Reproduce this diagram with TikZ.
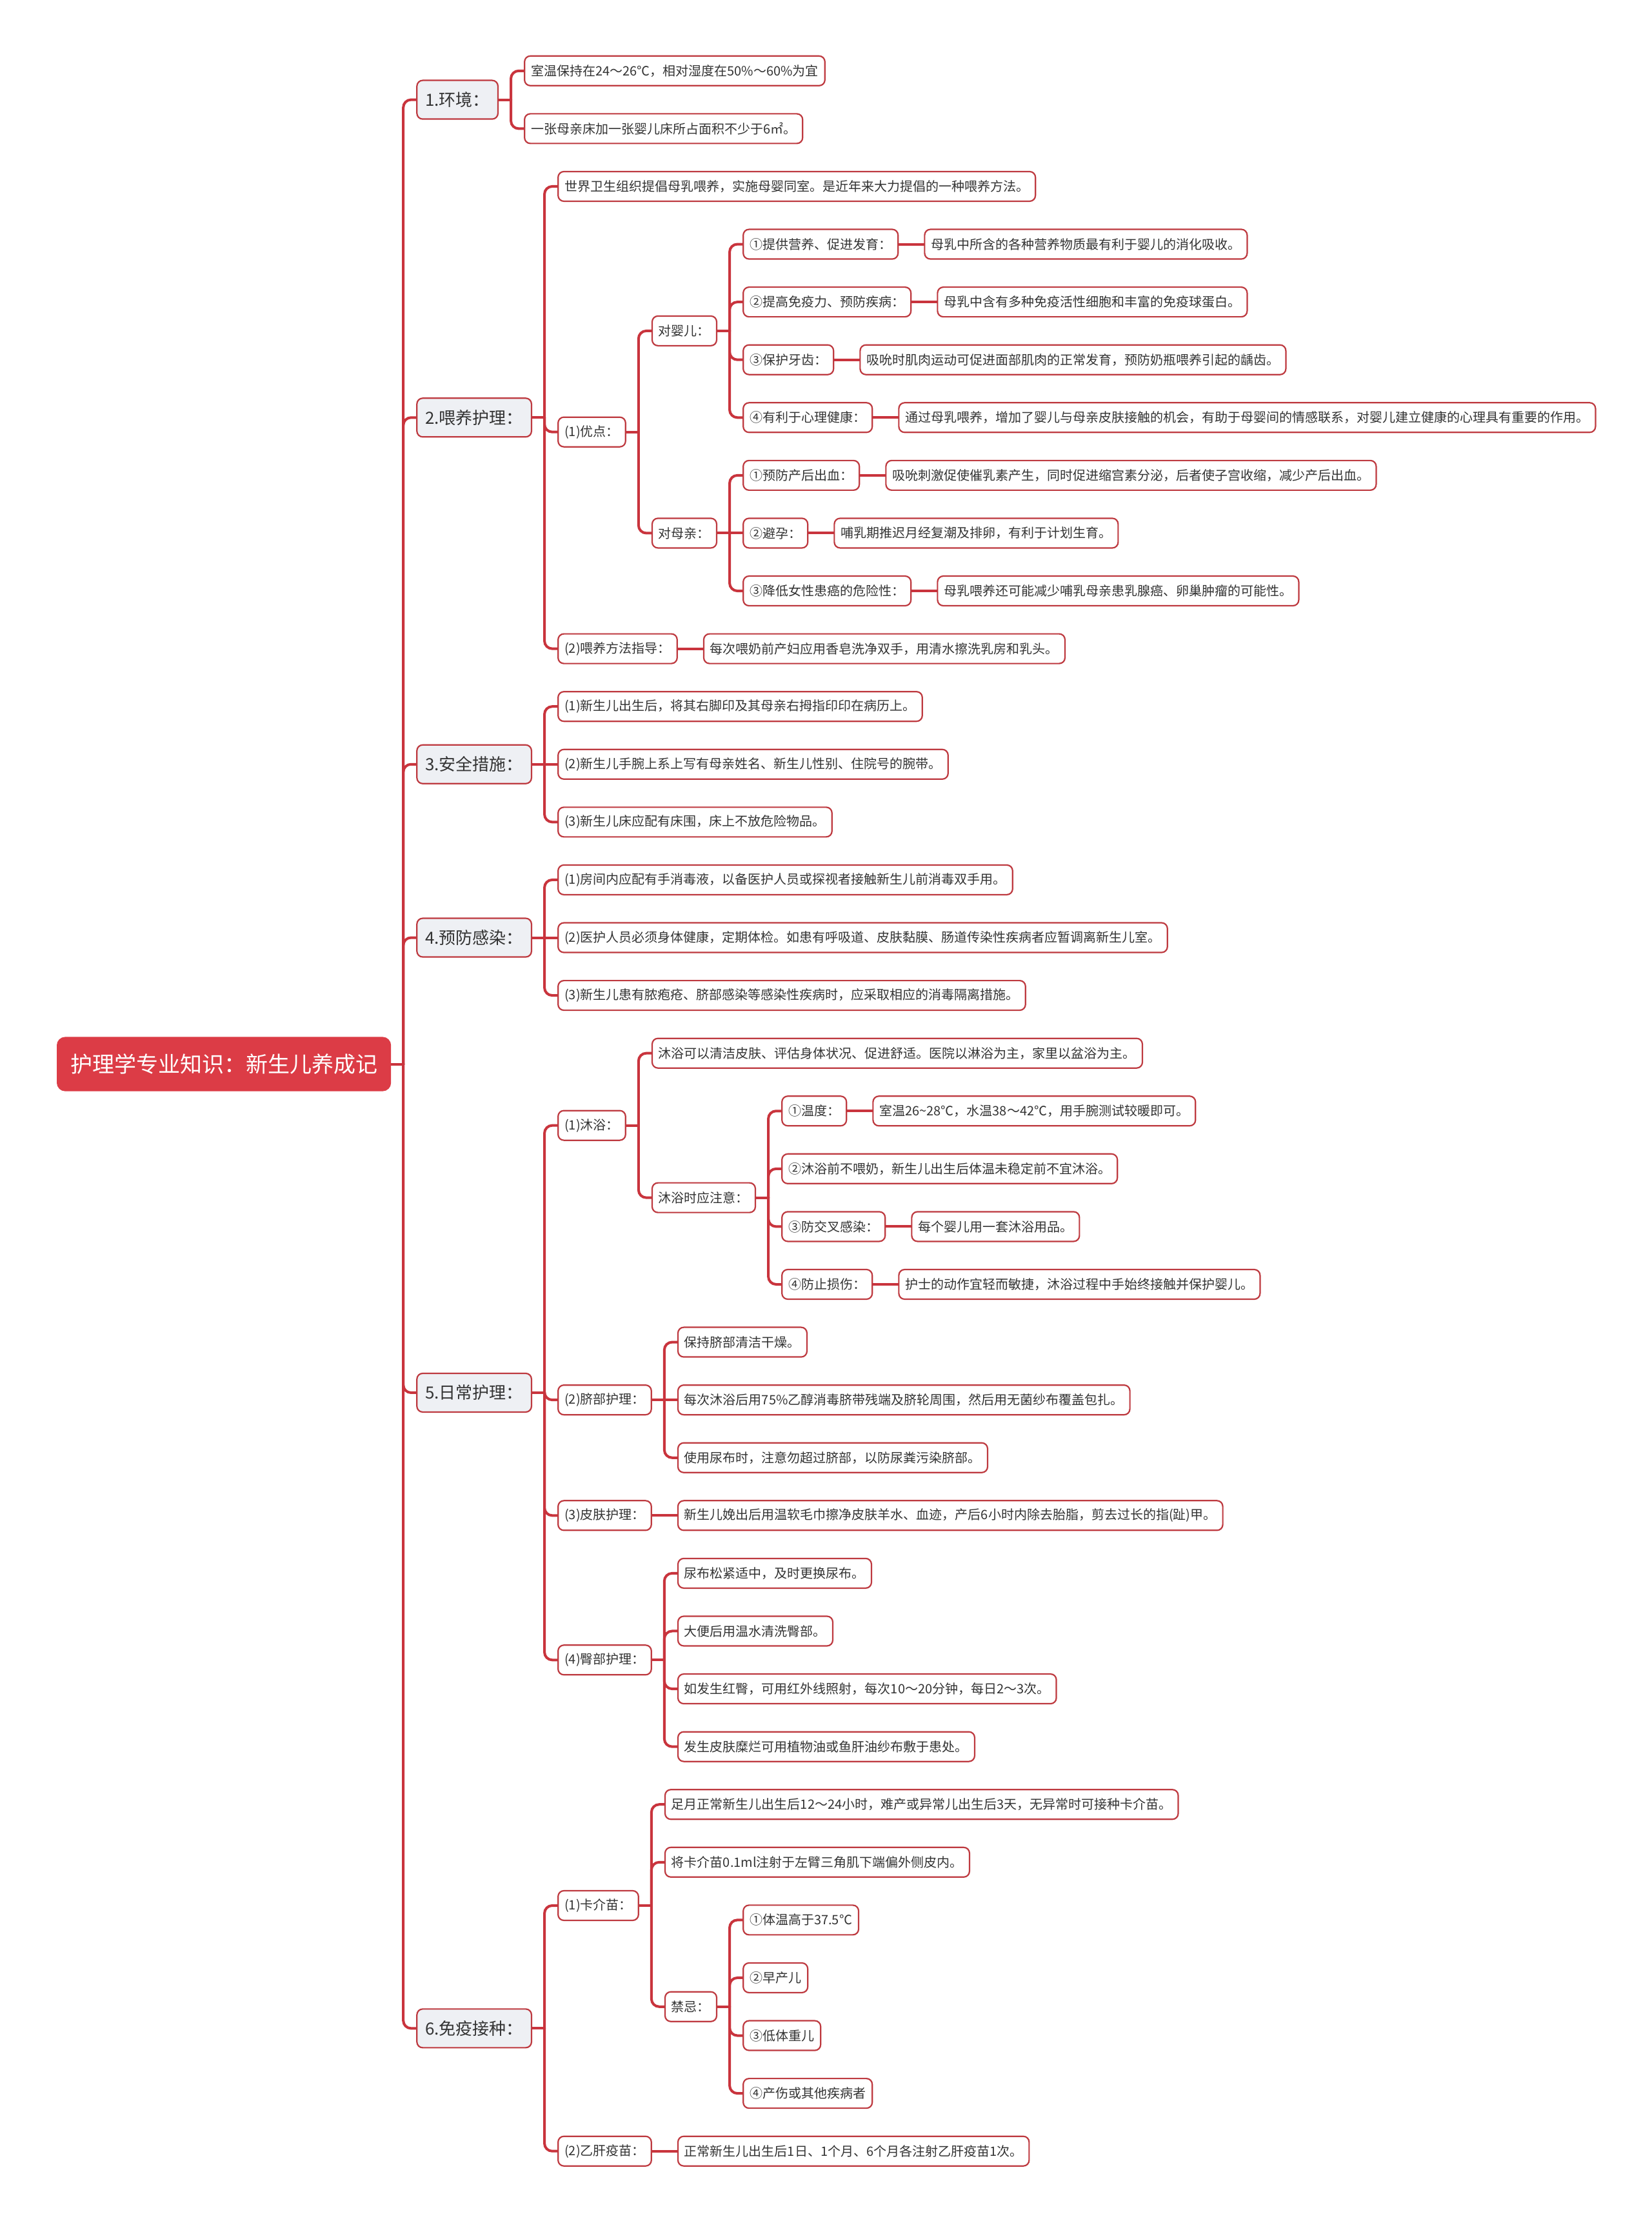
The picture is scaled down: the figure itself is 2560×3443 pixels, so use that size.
\documentclass[tikz,border=0pt]{standalone}
\usepackage{fontspec}
\setmainfont{Noto Sans CJK SC}
\usetikzlibrary{backgrounds}
\definecolor{lineRed}{HTML}{C9343D}
\definecolor{boxRed}{HTML}{BE3A40}
\definecolor{rootRed}{HTML}{DC3C46}
\definecolor{lvGray}{HTML}{EEF0F4}
\definecolor{txtGray}{HTML}{333333}
\tikzset{
  basebox/.style={rounded corners=9pt, draw=boxRed, line width=2.2pt, text=txtGray, inner ysep=0pt, anchor=west},
  rootbox/.style={basebox, fill=rootRed, draw=rootRed, text=white, font=\fontsize{34}{40}\selectfont, minimum height=82pt, inner xsep=20pt, rounded corners=12pt},
  topicbox/.style={basebox, fill=lvGray, font=\fontsize{26}{30}\selectfont, minimum height=60pt, inner xsep=13pt},
  leafbox/.style={basebox, fill=white, font=\fontsize{20}{24}\selectfont, minimum height=46pt, inner xsep=10pt},
  conn/.style={draw=lineRed, line width=4pt, line cap=round, rounded corners=12pt},
}
% child on another row: stub + rounded elbow
\newcommand\mmnode[5]{%
  \pgfmathsetmacro\mmy{109.8+89.58*(#4)}%
  \coordinate (mmrow) at (0,\mmy);%
  \coordinate (mmx) at ([xshift=39pt]#3.east);%
  \node[#1] (#2) at (mmx |- mmrow) {#5};%
  \begin{scope}[on background layer]
    \draw[conn] (#3.east) -- ([xshift=19pt]#3.east);
    \draw[conn] ([xshift=19pt]#3.east) |- (#2.west);
  \end{scope}%
}
% child on the parent's own row: straight line
\newcommand\mmnodeS[5]{%
  \pgfmathsetmacro\mmy{109.8+89.58*(#4)}%
  \coordinate (mmrow) at (0,\mmy);%
  \coordinate (mmx) at ([xshift=39pt]#3.east);%
  \node[#1] (#2) at (mmx |- mmrow) {#5};%
  \begin{scope}[on background layer]
    \draw[conn] (#3.east) -- (#2.west);
  \end{scope}%
}
\begin{document}
\begin{tikzpicture}[x=1pt,y=-1pt]
\useasboundingbox (0,0) rectangle (2560,3443);
\begin{scope}[on background layer]
\fill[white] (0,0) rectangle (2560,3443);
\end{scope}
\node[rootbox] (root) at (88,1649.5) {护理学专业知识：新生儿养成记};

% 1
\mmnode{topicbox}{t1}{root}{0.5}{1.环境：}
\mmnode{leafbox}{t1a}{t1}{0}{室温保持在24～26℃，相对湿度在50\%～60\%为宜}
\mmnode{leafbox}{t1b}{t1}{1}{一张母亲床加一张婴儿床所占面积不少于6㎡。}

% 2
\mmnode{topicbox}{t2}{root}{6}{2.喂养护理：}
\mmnode{leafbox}{t2a}{t2}{2}{世界卫生组织提倡母乳喂养，实施母婴同室。是近年来大力提倡的一种喂养方法。}
\mmnode{leafbox}{t2b}{t2}{6.25}{(1)优点：}
\mmnode{leafbox}{t2b1}{t2b}{4.5}{对婴儿：}
\mmnode{leafbox}{t2b1a}{t2b1}{3}{①提供营养、促进发育：}
\mmnodeS{leafbox}{t2b1ax}{t2b1a}{3}{母乳中所含的各种营养物质最有利于婴儿的消化吸收。}
\mmnode{leafbox}{t2b1b}{t2b1}{4}{②提高免疫力、预防疾病：}
\mmnodeS{leafbox}{t2b1bx}{t2b1b}{4}{母乳中含有多种免疫活性细胞和丰富的免疫球蛋白。}
\mmnode{leafbox}{t2b1c}{t2b1}{5}{③保护牙齿：}
\mmnodeS{leafbox}{t2b1cx}{t2b1c}{5}{吸吮时肌肉运动可促进面部肌肉的正常发育，预防奶瓶喂养引起的龋齿。}
\mmnode{leafbox}{t2b1d}{t2b1}{6}{④有利于心理健康：}
\mmnodeS{leafbox}{t2b1dx}{t2b1d}{6}{通过母乳喂养，增加了婴儿与母亲皮肤接触的机会，有助于母婴间的情感联系，对婴儿建立健康的心理具有重要的作用。}
\mmnode{leafbox}{t2b2}{t2b}{8}{对母亲：}
\mmnode{leafbox}{t2b2a}{t2b2}{7}{①预防产后出血：}
\mmnodeS{leafbox}{t2b2ax}{t2b2a}{7}{吸吮刺激促使催乳素产生，同时促进缩宫素分泌，后者使子宫收缩，减少产后出血。}
\mmnodeS{leafbox}{t2b2b}{t2b2}{8}{②避孕：}
\mmnodeS{leafbox}{t2b2bx}{t2b2b}{8}{哺乳期推迟月经复潮及排卵，有利于计划生育。}
\mmnode{leafbox}{t2b2c}{t2b2}{9}{③降低女性患癌的危险性：}
\mmnodeS{leafbox}{t2b2cx}{t2b2c}{9}{母乳喂养还可能减少哺乳母亲患乳腺癌、卵巢肿瘤的可能性。}
\mmnode{leafbox}{t2c}{t2}{10}{(2)喂养方法指导：}
\mmnodeS{leafbox}{t2cx}{t2c}{10}{每次喂奶前产妇应用香皂洗净双手，用清水擦洗乳房和乳头。}

% 3
\mmnode{topicbox}{t3}{root}{12}{3.安全措施：}
\mmnode{leafbox}{t3a}{t3}{11}{(1)新生儿出生后，将其右脚印及其母亲右拇指印印在病历上。}
\mmnodeS{leafbox}{t3b}{t3}{12}{(2)新生儿手腕上系上写有母亲姓名、新生儿性别、住院号的腕带。}
\mmnode{leafbox}{t3c}{t3}{13}{(3)新生儿床应配有床围，床上不放危险物品。}

% 4
\mmnode{topicbox}{t4}{root}{15}{4.预防感染：}
\mmnode{leafbox}{t4a}{t4}{14}{(1)房间内应配有手消毒液，以备医护人员或探视者接触新生儿前消毒双手用。}
\mmnodeS{leafbox}{t4b}{t4}{15}{(2)医护人员必须身体健康，定期体检。如患有呼吸道、皮肤黏膜、肠道传染性疾病者应暂调离新生儿室。}
\mmnode{leafbox}{t4c}{t4}{16}{(3)新生儿患有脓疱疮、脐部感染等感染性疾病时，应采取相应的消毒隔离措施。}

% 5
\mmnode{topicbox}{t5}{root}{22.875}{5.日常护理：}
\mmnode{leafbox}{t5a}{t5}{18.25}{(1)沐浴：}
\mmnode{leafbox}{t5a1}{t5a}{17}{沐浴可以清洁皮肤、评估身体状况、促进舒适。医院以淋浴为主，家里以盆浴为主。}
\mmnode{leafbox}{t5a2}{t5a}{19.5}{沐浴时应注意：}
\mmnode{leafbox}{t5a2a}{t5a2}{18}{①温度：}
\mmnodeS{leafbox}{t5a2ax}{t5a2a}{18}{室温26\textasciitilde 28℃，水温38～42℃，用手腕测试较暖即可。}
\mmnode{leafbox}{t5a2b}{t5a2}{19}{②沐浴前不喂奶，新生儿出生后体温未稳定前不宜沐浴。}
\mmnode{leafbox}{t5a2c}{t5a2}{20}{③防交叉感染：}
\mmnodeS{leafbox}{t5a2cx}{t5a2c}{20}{每个婴儿用一套沐浴用品。}
\mmnode{leafbox}{t5a2d}{t5a2}{21}{④防止损伤：}
\mmnodeS{leafbox}{t5a2dx}{t5a2d}{21}{护士的动作宜轻而敏捷，沐浴过程中手始终接触并保护婴儿。}
\mmnode{leafbox}{t5b}{t5}{23}{(2)脐部护理：}
\mmnode{leafbox}{t5b1}{t5b}{22}{保持脐部清洁干燥。}
\mmnodeS{leafbox}{t5b2}{t5b}{23}{每次沐浴后用75\%乙醇消毒脐带残端及脐轮周围，然后用无菌纱布覆盖包扎。}
\mmnode{leafbox}{t5b3}{t5b}{24}{使用尿布时，注意勿超过脐部，以防尿粪污染脐部。}
\mmnode{leafbox}{t5c}{t5}{25}{(3)皮肤护理：}
\mmnodeS{leafbox}{t5cx}{t5c}{25}{新生儿娩出后用温软毛巾擦净皮肤羊水、血迹，产后6小时内除去胎脂，剪去过长的指(趾)甲。}
\mmnode{leafbox}{t5d}{t5}{27.5}{(4)臀部护理：}
\mmnode{leafbox}{t5d1}{t5d}{26}{尿布松紧适中，及时更换尿布。}
\mmnode{leafbox}{t5d2}{t5d}{27}{大便后用温水清洗臀部。}
\mmnode{leafbox}{t5d3}{t5d}{28}{如发生红臀，可用红外线照射，每次10～20分钟，每日2～3次。}
\mmnode{leafbox}{t5d4}{t5d}{29}{发生皮肤糜烂可用植物油或鱼肝油纱布敷于患处。}

% 6
\mmnode{topicbox}{t6}{root}{33.875}{6.免疫接种：}
\mmnode{leafbox}{t6a}{t6}{31.75}{(1)卡介苗：}
\mmnode{leafbox}{t6a1}{t6a}{30}{足月正常新生儿出生后12～24小时，难产或异常儿出生后3天，无异常时可接种卡介苗。}
\mmnode{leafbox}{t6a2}{t6a}{31}{将卡介苗0.1ml注射于左臂三角肌下端偏外侧皮内。}
\mmnode{leafbox}{t6a3}{t6a}{33.5}{禁忌：}
\mmnode{leafbox}{t6a3a}{t6a3}{32}{①体温高于37.5℃}
\mmnode{leafbox}{t6a3b}{t6a3}{33}{②早产儿}
\mmnode{leafbox}{t6a3c}{t6a3}{34}{③低体重儿}
\mmnode{leafbox}{t6a3d}{t6a3}{35}{④产伤或其他疾病者}
\mmnode{leafbox}{t6b}{t6}{36}{(2)乙肝疫苗：}
\mmnodeS{leafbox}{t6bx}{t6b}{36}{正常新生儿出生后1日、1个月、6个月各注射乙肝疫苗1次。}
\end{tikzpicture}
\end{document}
